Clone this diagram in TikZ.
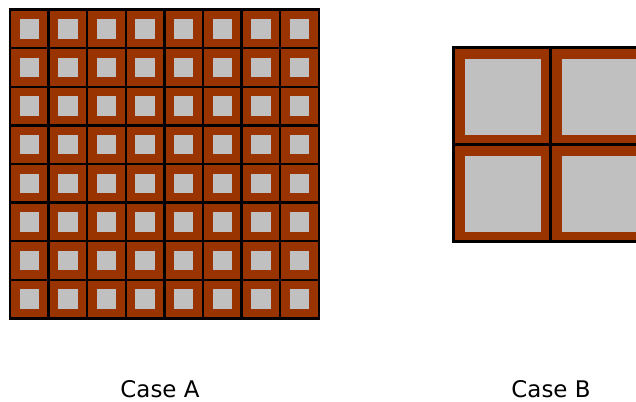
\documentclass[tikz,border=0pt]{standalone}
\usepackage{fontspec}
\setmainfont{DejaVu Sans}
\usepackage{tikz}
\usetikzlibrary{calc}
\definecolor{brick}{HTML}{993300}
\definecolor{pale}{HTML}{C0C0C0}
\tikzstyle{cell}=[fill=brick, draw=black, line width=2.4bp]
\tikzstyle{core}=[fill=pale]
\tikzstyle{caption}=[font=\fontsize{23}{26}\selectfont, inner sep=0pt, anchor=base]

\begin{document}
\begin{tikzpicture}[x=1bp,y=-1bp]
\useasboundingbox (0,0) rectangle (636,401);
\begin{scope}
\clip (0,0) rectangle (636,401);
% case A : 8x8 small cells
\foreach \i in {0,...,7} {
  \foreach \j in {0,...,7} {
    \coordinate (a\i\j) at ({10+38.6*\i},{9.5+38.6*\j});
    \draw[cell] (a\i\j) rectangle +(38.6,38.6);
    \fill[core] ($(a\i\j)+(9.6,9.6)$) rectangle +(19.4,19.4);
  }
}
% case B : 2x2 large cells
\foreach \i in {0,1} {
  \foreach \j in {0,1} {
    \coordinate (b\i\j) at ({453.5+97*\i},{47.5+97*\j});
    \draw[cell] (b\i\j) rectangle +(97,97);
    \fill[core] ($(b\i\j)+(11,11)$) rectangle +(76.5,76.5);
  }
}
\end{scope}
\node[caption] (capA) at (160,397) {Case A};
\node[caption] (capB) at (551,397) {Case B};
\end{tikzpicture}
\end{document}
